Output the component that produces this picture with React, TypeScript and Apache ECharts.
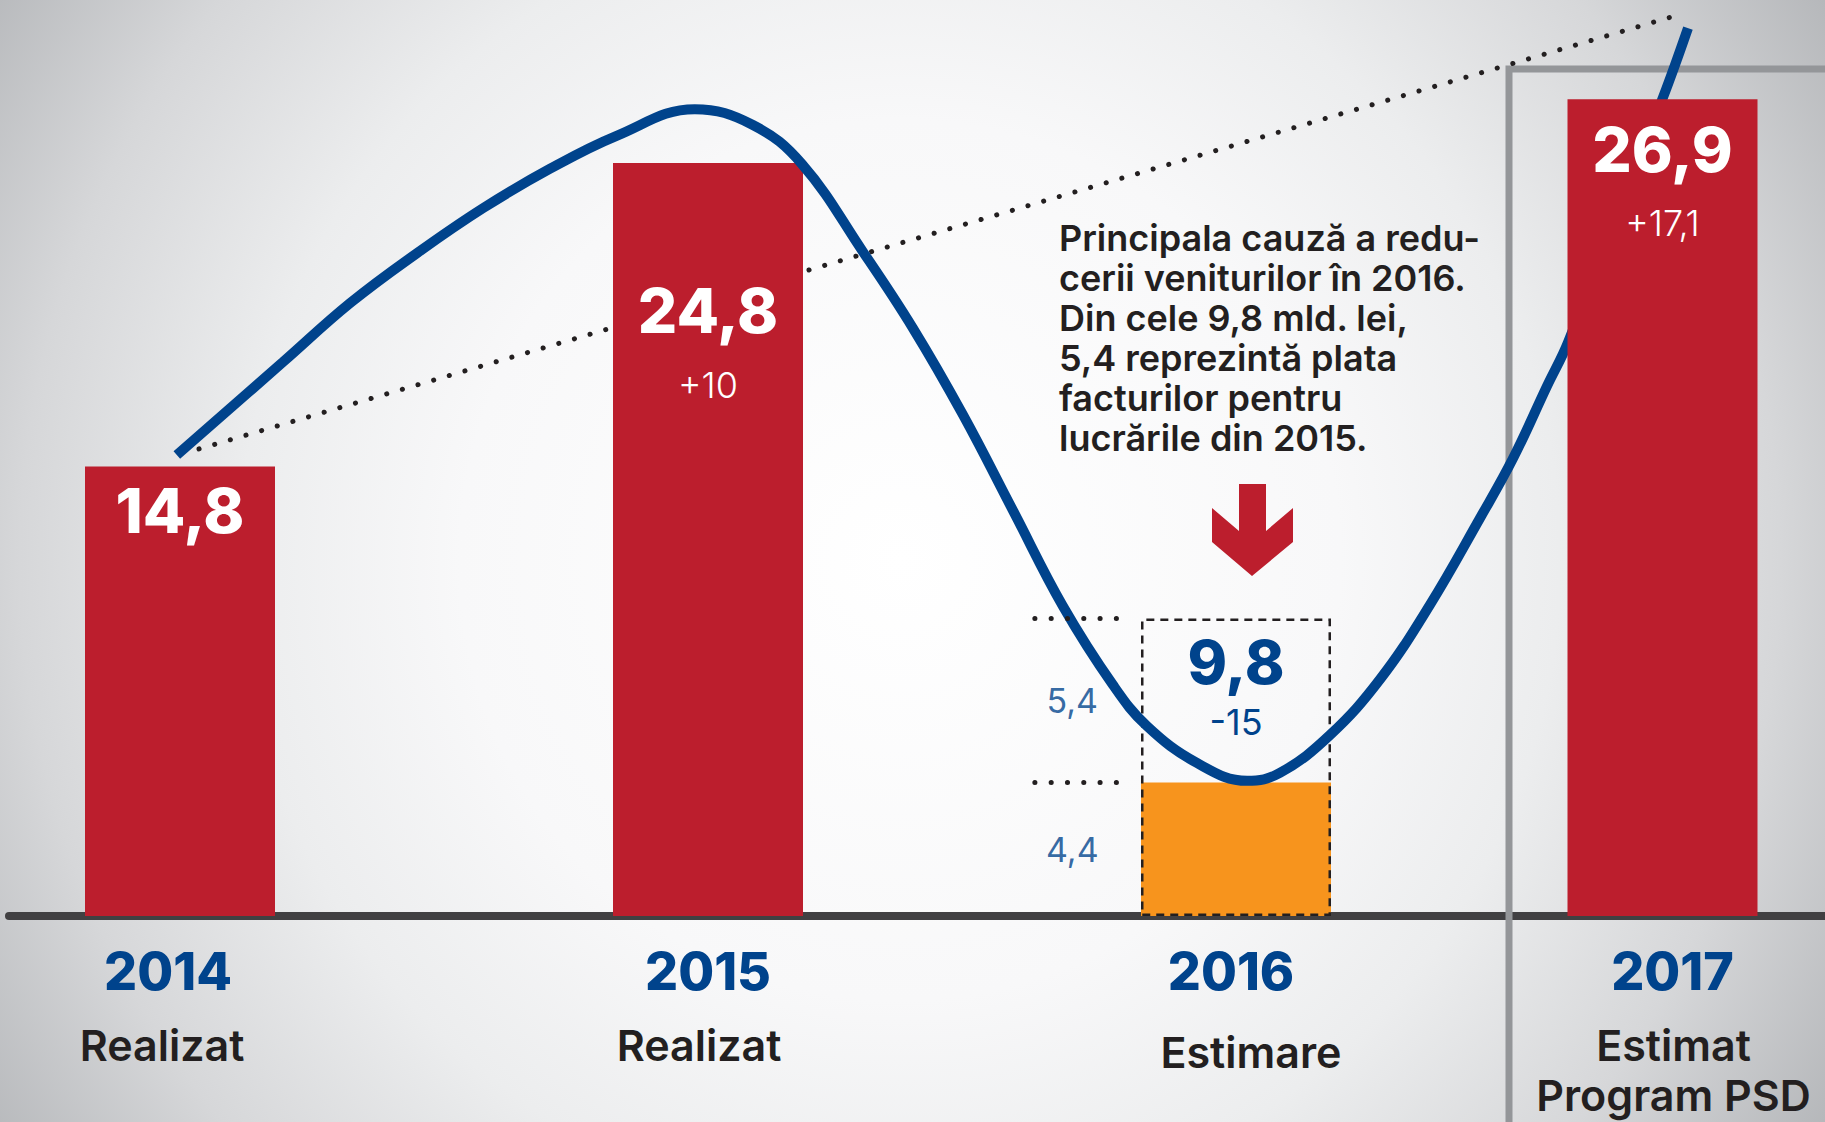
import React, { useEffect, useRef } from 'react';
import * as echarts from 'echarts';

// ---- data ----
const years = ['2014', '2015', '2016', '2017'];
const subtitles = ['Realizat', 'Realizat', 'Estimare', 'Estimat\nProgram PSD'];
const revenue = [14.8, 24.8, 9.8, 26.9];
const change: (number | null)[] = [null, 10, -15, 17.1];
const split2016 = [4.4, 5.4]; // [rest of 2016, invoices for 2015 works]
const trendLine = [
  [2014.036, 15.38],
  [2016.837, 29.67],
];
const curveYears = [
  2013.994, 2014.195, 2014.322, 2014.449, 2014.574, 2014.701, 2014.828, 2014.975,
  2015.085, 2015.178, 2015.294, 2015.388, 2015.483, 2015.578, 2015.672, 2015.767, 2015.831,
  2015.926, 2016.021, 2016.083, 2016.178, 2016.273, 2016.367, 2016.462, 2016.525, 2016.589,
  2016.629, 2016.809, 2016.856,
];
const curveValues = [
  15.18, 18.24, 20.18, 21.83, 23.31, 24.61, 25.7, 26.57, 26.05, 24.76, 21.86, 19.36,
  16.5, 13.34, 10.21, 7.61, 6.26, 5.04, 4.45, 4.71, 5.96, 7.8, 10.24, 13.1, 15.08, 17.45,
  18.9, 26.97, 29.24,
];
const noteText =
  'Principala cauză a redu-\ncerii veniturilor în 2016.\nDin cele 9,8 mld. lei,\n5,4 reprezintă plata\nfacturilor pentru\nlucrările din 2015.';

// ---- styles ----
const RED = '#BC1E2D';
const ORANGE = '#F7941D';
const BLUE = '#00438C';
const DARK = '#231F20';
const FONT = 'Inter';

const fmt = (v: number) => String(v).replace('.', ',');
const fmtChange = (v: number) => (v > 0 ? '+' : '') + fmt(v);

const barLabelRich = {
  v: { fontFamily: FONT, fontWeight: 800, fontSize: 62, color: '#fff', lineHeight: 74 },
  d: { fontFamily: FONT, fontWeight: 300, fontSize: 36, color: '#fff', lineHeight: 74 },
};

function redLabel(i: number, distance: number) {
  const c = change[i];
  return {
    show: true,
    position: 'insideTop',
    distance,
    formatter: `{v|${fmt(revenue[i])}}` + (c == null ? '' : `\n{d|${fmtChange(c)}}`),
    rich: barLabelRich,
  };
}

const yStyle = { fontFamily: FONT, fontWeight: 800, fontSize: 52, color: BLUE, lineHeight: 74 };
const sStyle = { fontFamily: FONT, fontWeight: 600, fontSize: 43, color: DARK, lineHeight: 74 };
const axisRich = {
  y0: { ...yStyle, padding: [0, 24, 0, 0] },
  y1: { ...yStyle },
  y2: { ...yStyle, padding: [0, 10, 0, 0] },
  s0: { ...sStyle, padding: [0, 36, 0, 0] },
  s1: { ...sStyle, padding: [0, 18, 0, 0] },
  s2: { ...sStyle, lineHeight: 88, padding: [0, 0, 0, 30] },
};
const axisRichB = {
  y: { ...yStyle, lineHeight: 98, padding: [0, 0, 0, 20] },
  s: { ...sStyle, lineHeight: 50, padding: [0, 0, 0, 22] },
};

const dotted = { color: DARK, width: 5, type: [0.1, 16.2], cap: 'round' };

export default function App() {
  const ref = useRef<HTMLDivElement>(null);
  useEffect(() => {
    document.body.style.margin = '0';
    const chart = echarts.init(ref.current!, null, { renderer: 'svg' });

    const yr = years.map(Number);
    const x2016 = yr[2];
    // main panel: 528 px per year, 2014 centred at x=180, panel from x=9 to the right edge
    const xMin = yr[0] - (180 - 9) / 528;
    const xMax = xMin + (1825 - 9) / 528;

    const option: any = {
      animation: false,
      grid: [
        { left: 9, right: 0, top: 5, bottom: 206 },
        { left: 1500, width: 325, top: 5, bottom: 206 },
      ],
      xAxis: [
        {
          gridIndex: 0,
          type: 'value',
          min: xMin,
          max: xMax,
          axisLine: { show: true, onZero: false, lineStyle: { color: '#414042', width: 8 } },
          axisTick: { show: false },
          splitLine: { show: false },
          axisLabel: {
            show: true,
            customValues: yr.slice(0, 3),
            margin: 18,
            formatter: (v: number) => {
              const i = yr.indexOf(Math.round(v));
              if (i < 0 || i > 2) return '';
              return `{y${i}|${years[i]}}\n{s${i}|${subtitles[i]}}`;
            },
            rich: axisRich,
          },
        },
        {
          gridIndex: 1,
          type: 'category',
          data: [years[3]],
          axisLine: { show: false },
          axisTick: { show: false },
          splitLine: { show: false },
          axisLabel: {
            interval: 0,
            margin: 6,
            formatter: (v: string) =>
              `{y|${v}}\n` + subtitles[3].split('\n').map((t) => `{s|${t}}`).join('\n'),
            rich: axisRichB,
          },
        },
      ],
      yAxis: [
        { gridIndex: 0, type: 'value', min: 0, max: 30, show: false },
        { gridIndex: 1, type: 'value', min: 0, max: 30, show: false },
      ],
      graphic: [
        {
          type: 'rect',
          z: -100,
          silent: true,
          shape: { x: 0, y: 0, width: 1825, height: 1122 },
          style: {
            fill: new echarts.graphic.RadialGradient(
              900,
              560,
              1100,
              [
                { offset: 0, color: '#ffffff' },
                { offset: 0.4, color: '#f8f8f9' },
                { offset: 0.6, color: '#ecedee' },
                { offset: 0.8, color: '#d6d7d9' },
                { offset: 1, color: '#b3b5b8' },
              ],
              true
            ),
          },
        },
        {
          type: 'polyline',
          z: 1,
          silent: true,
          shape: { points: [[1509, 1130], [1509, 69], [1830, 69]] },
          style: { stroke: '#949699', lineWidth: 7, fill: null },
        },
        {
          type: 'polygon',
          z: 5,
          silent: true,
          shape: {
            points: [
              [1239, 484], [1266, 484], [1266, 531], [1293, 508], [1293, 542],
              [1252, 576], [1212, 542], [1212, 508], [1239, 531],
            ],
          },
          style: { fill: RED },
        },
        {
          type: 'text',
          z: 5,
          silent: true,
          x: 1059,
          y: 218,
          style: {
            text: noteText,
            fill: DARK,
            fontFamily: FONT,
            fontWeight: 600,
            fontSize: 36,
            lineHeight: 40,
            verticalAlign: 'top',
          },
        },
      ],
      series: [
        {
          name: 'trend',
          type: 'line',
          xAxisIndex: 0,
          yAxisIndex: 0,
          data: trendLine,
          symbol: 'none',
          z: 1,
          lineStyle: dotted,
          markLine: {
            silent: true,
            symbol: ['none', 'none'],
            label: { show: false },
            lineStyle: dotted,
            data: [
              [{ coord: [x2016 - 0.381, revenue[2]] }, { coord: [x2016 - 0.225, revenue[2]] }],
              [{ coord: [x2016 - 0.381, split2016[0]] }, { coord: [x2016 - 0.225, split2016[0]] }],
            ],
          },
        },
        {
          name: 'realizat',
          type: 'bar',
          xAxisIndex: 0,
          yAxisIndex: 0,
          barWidth: 190,
          barGap: '-100%',
          z: 2,
          itemStyle: { color: RED },
          data: [
            { value: [yr[0], revenue[0]], label: redLabel(0, 7) },
            { value: [yr[1], revenue[1]], label: redLabel(1, 111) },
          ],
        },
        {
          name: 'rest2016',
          type: 'bar',
          xAxisIndex: 0,
          yAxisIndex: 0,
          barWidth: 190,
          barGap: '-100%',
          z: 2,
          itemStyle: { color: ORANGE },
          data: [[x2016, split2016[0]]],
        },
        {
          name: 'total2016',
          type: 'bar',
          xAxisIndex: 0,
          yAxisIndex: 0,
          barWidth: 190,
          barGap: '-100%',
          z: 2,
          itemStyle: {
            color: 'rgba(0,0,0,0)',
            borderColor: DARK,
            borderWidth: 2.5,
            borderType: [8, 6],
          },
          label: {
            show: true,
            position: 'insideTop',
            distance: 14,
            formatter: () => `{v|${fmt(revenue[2])}}\n{d|${fmtChange(change[2] as number)}}`,
            rich: {
              v: { fontFamily: FONT, fontWeight: 800, fontSize: 60, color: BLUE, lineHeight: 60 },
              d: { fontFamily: FONT, fontWeight: 400, fontSize: 36, color: BLUE, lineHeight: 60 },
            },
          },
          data: [[x2016, revenue[2]]],
        },
        {
          name: 'splitLabels',
          type: 'scatter',
          xAxisIndex: 0,
          yAxisIndex: 0,
          symbolSize: 1,
          z: 3,
          itemStyle: { color: 'rgba(0,0,0,0)' },
          label: {
            show: true,
            position: 'inside',
            formatter: (p: any) => fmt(p.data[2]),
            fontFamily: FONT,
            fontWeight: 400,
            fontSize: 34,
            color: BLUE,
          },
          data: [
            [x2016 - 0.31, split2016[0] + split2016[1] / 2, split2016[1]],
            [x2016 - 0.31, split2016[0] / 2, split2016[0]],
          ],
        },
        {
          name: 'curve',
          type: 'line',
          xAxisIndex: 0,
          yAxisIndex: 0,
          data: curveYears.map((x, i) => [x, curveValues[i]]),
          smooth: 0.4,
          symbol: 'none',
          z: 3,
          lineStyle: { color: BLUE, width: 10 },
        },
        {
          name: 'psd',
          type: 'bar',
          xAxisIndex: 1,
          yAxisIndex: 1,
          barWidth: 190,
          z: 4,
          itemStyle: { color: RED },
          data: [{ value: revenue[3], label: redLabel(3, 13) }],
        },
      ],
    };

    chart.setOption(option);
    return () => chart.dispose();
  }, []);

  return <div ref={ref} style={{ width: 1825, height: 1122 }} />;
}
